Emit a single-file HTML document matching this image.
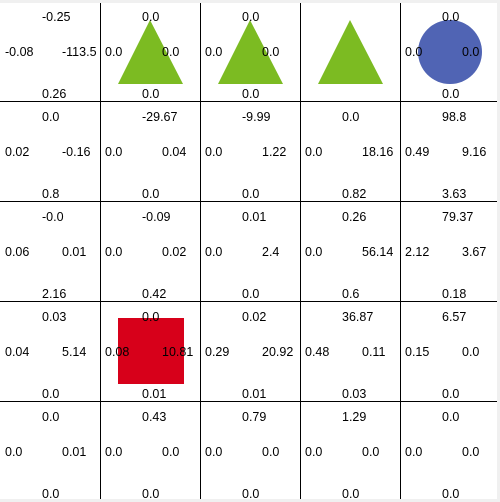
<!DOCTYPE html>
<html><head><meta charset="utf-8"><style>
html,body{margin:0;padding:0;background:#f0f0f0;}
#wrap{position:relative;width:500px;height:502px;overflow:hidden;}
svg{position:absolute;left:0;top:0;}
text{font-family:"Liberation Sans",Arial,sans-serif;font-size:12.5px;fill:#000;}
</style></head><body>
<div id="wrap">
<svg id="chart" width="500" height="502"></svg>
</div>
<script>
const rows = 5, cols = 5;
const topLabels = [
 ["-0.25","0.0","0.0","","0.0"],
 ["0.0","-29.67","-9.99","0.0","98.8"],
 ["-0.0","-0.09","0.01","0.26","79.37"],
 ["0.03","0.0","0.02","36.87","6.57"],
 ["0.0","0.43","0.79","1.29","0.0"]];
const leftLabels = [
 ["-0.08","0.0","0.0","","0.0"],
 ["0.02","0.0","0.0","0.0","0.49"],
 ["0.06","0.0","0.0","0.0","2.12"],
 ["0.04","0.08","0.29","0.48","0.15"],
 ["0.0","0.0","0.0","0.0","0.0"]];
const rightLabels = [
 ["-113.5","0.0","0.0","","0.0"],
 ["-0.16","0.04","1.22","18.16","9.16"],
 ["0.01","0.02","2.4","56.14","3.67"],
 ["5.14","10.81","20.92","0.11","0.0"],
 ["0.01","0.0","0.0","0.0","0.0"]];
const bottomLabels = [
 ["0.26","0.0","0.0","","0.0"],
 ["0.8","0.0","0.0","0.82","3.63"],
 ["2.16","0.42","0.0","0.6","0.18"],
 ["0.0","0.01","0.01","0.03","0.0"],
 ["0.0","0.0","0.0","0.0","0.0"]];
const shapes = [
 {row:0,col:1,type:"triangle"},{row:0,col:2,type:"triangle"},{row:0,col:3,type:"triangle"},
 {row:0,col:4,type:"circle"},{row:3,col:1,type:"square"}];

const svg = document.getElementById('chart');
const NS = "http://www.w3.org/2000/svg";
const cellW = 100, cellH = 100, x0 = 0, y0 = 1;
function cx(c){return x0 + c*cellW;}
function cy(r){return y0 + r*cellH;}
function mk(tag, attrs){const e=document.createElementNS(NS,tag);for(const k in attrs)e.setAttribute(k,attrs[k]);svg.appendChild(e);return e;}

const bg = mk('rect',{x:0,y:3,width:497,height:496,fill:'#fff'});



shapes.forEach(s=>{
  const x=cx(s.col), y=cy(s.row); let e;
  if(s.type==="triangle"){
    e=mk('polygon',{points:`${x+50},${y+19} ${x+83},${y+83} ${x+18},${y+83}`,fill:'#7cbb22'});
  } else if(s.type==="circle"){
    e=mk('circle',{cx:x+50,cy:y+51,r:32,fill:'#5064b4'});
  } else {
    e=mk('rect',{x:x+18,y:y+17,width:66,height:66,fill:'#d7001a'});
  }
  
  
});

for(let i=1;i<cols;i++){
  const l=mk('line',{x1:cx(i)+0.5,x2:cx(i)+0.5,y1:3,y2:499,stroke:'#000','stroke-width':1});
  
  
}
for(let j=1;j<rows;j++){
  const l=mk('line',{x1:0,x2:497,y1:cy(j)+0.5,y2:cy(j)+0.5,stroke:'#000','stroke-width':1});
  
  
}

for(let r=0;r<rows;r++)for(let c=0;c<cols;c++){
  const x=cx(c), y=cy(r);
  const specs=[[topLabels[r][c],x+42,y+20,'top-label'],
    [leftLabels[r][c],x+5,y+55,'left-label'],
    [rightLabels[r][c],x+62,y+55,'right-label'],
    [bottomLabels[r][c],x+42,y+97,'bottom-label']];
  specs.forEach(s=>{
    if(s[0]==="")return;
    const t=mk('text',{x:s[1],y:s[2]});
    t.textContent=s[0];
    
    
  });
}
</script>
</body></html>
